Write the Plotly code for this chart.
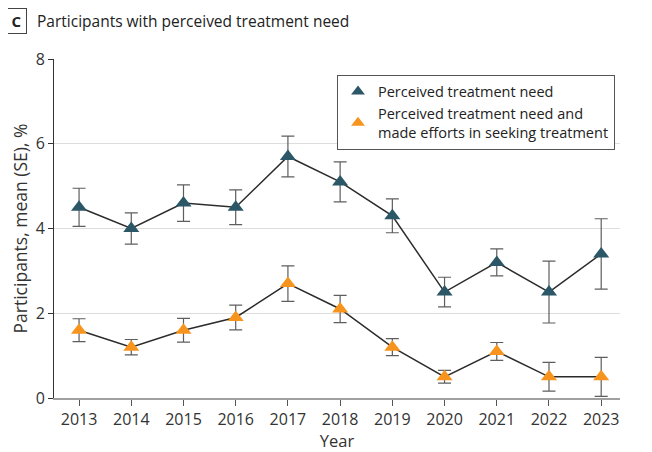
import plotly.graph_objects as go

years = [2013, 2014, 2015, 2016, 2017, 2018, 2019, 2020, 2021, 2022, 2023]
need_mean = [4.5, 4.0, 4.6, 4.5, 5.7, 5.1, 4.3, 2.5, 3.2, 2.5, 3.4]
need_se = [0.45, 0.37, 0.43, 0.41, 0.48, 0.47, 0.40, 0.35, 0.32, 0.73, 0.83]
seek_mean = [1.6, 1.2, 1.6, 1.9, 2.7, 2.1, 1.2, 0.5, 1.1, 0.5, 0.5]
seek_se = [0.27, 0.18, 0.28, 0.29, 0.42, 0.32, 0.20, 0.15, 0.21, 0.34, 0.46]

series_names = ["Perceived treatment need",
                "Perceived treatment need and<br>made efforts in seeking treatment"]
colors = ["#2B5766", "#F7941D"]
FONT = "Open Sans"

# page body has an 8px margin; figure sized to fit the 652x452 window
OFF = 8
W, H = 652 - OFF, 452 - OFF
L, R, T, B = 46, 32, 51, 54

fig = go.Figure()
for name, m, se, c in [(series_names[0], need_mean, need_se, colors[0]),
                       (series_names[1], seek_mean, seek_se, colors[1])]:
    fig.add_trace(go.Scatter(x=years, y=m, mode="lines", showlegend=False,
                             line=dict(color="#2b2b2b", width=1.5), hoverinfo="skip"))
    fig.add_trace(go.Scatter(x=years, y=m, mode="markers", name=name,
                             marker=dict(symbol="triangle-up", size=14, color=c),
                             error_y=dict(type="data", array=se, visible=True,
                                          color="#5e5e5e", thickness=1.2, width=6.5)))

pw, ph = W - L - R, H - T - B
def px(xs): return (xs - OFF - L) / pw
def py(ys): return (H - B - (ys - OFF)) / ph

fig.update_layout(
    width=W, height=H,
    margin=dict(l=L, r=R, t=T, b=B),
    plot_bgcolor="white", paper_bgcolor="white",
    font=dict(family=FONT, size=15, color="#333333"),
    legend=dict(x=px(337), y=py(74.5), xanchor="left", yanchor="top",
                bordercolor="#555555", borderwidth=1, bgcolor="white",
                font=dict(size=14.5, color="#222222"), tracegroupgap=0,
                itemsizing="constant"),
    xaxis=dict(range=[2012.52, 2023.36], tickvals=years, ticktext=[str(y) for y in years],
               showgrid=False, zeroline=False, showline=True, linecolor="#a0a0a0", linewidth=2,
               ticks="outside", ticklen=6, tickcolor="#555555", automargin=False,
               tickfont=dict(size=16),
               title=dict(text="Year", font=dict(size=16.5), standoff=8)),
    yaxis=dict(range=[0, 8], tickvals=[0, 2, 4, 6, 8], showgrid=True, gridcolor="#dddddd",
               gridwidth=1, zeroline=False, showline=True, linecolor="#333333", linewidth=1,
               ticks="outside", ticklen=5, tickcolor="#333333", automargin=False,
               tickfont=dict(size=16),
               title=dict(text="Participants, mean (SE), %", font=dict(size=17.5), standoff=6)),
    annotations=[
        dict(text="<b>C</b>", x=px(16.5), y=py(20.5), xref="paper", yref="paper",
             xanchor="center", yanchor="middle", showarrow=False,
             font=dict(size=15, color="#222222"), bordercolor="#444444", borderwidth=1,
             borderpad=1, width=17, height=22),
        dict(text="Participants with perceived treatment need", x=px(35), y=py(21),
             xanchor="left", yanchor="middle", showarrow=False,
             xref="paper", yref="paper", font=dict(size=15.5, color="#222222")),
    ],
)

fig.write_html("out.html")
